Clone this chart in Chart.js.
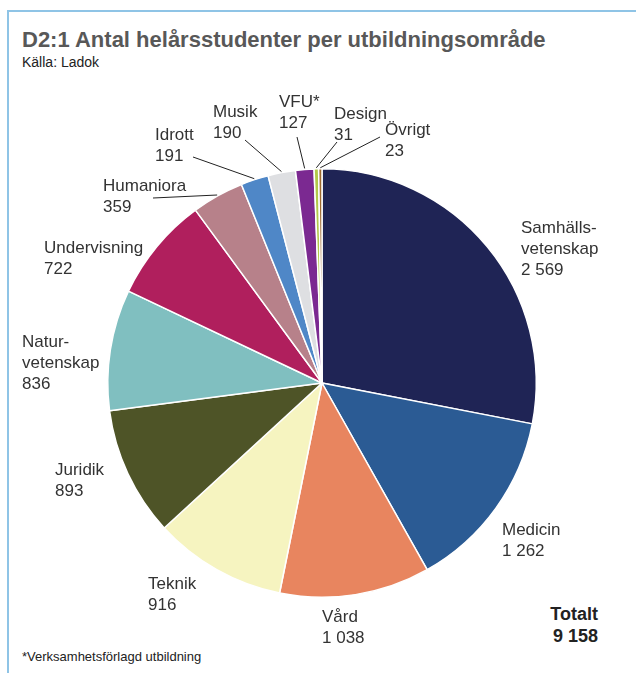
<!DOCTYPE html>
<html>
<head>
<meta charset="utf-8">
<script src="https://cdn.jsdelivr.net/npm/chart.js@4"></script>
<style>
    html, body { margin: 0; padding: 0; background: #fff; }
    #wrap { position: relative; width: 636px; height: 673px; overflow: hidden; }
    #frameTop { position: absolute; left: 7px; top: 10px; right: 0; height: 2px; background: #8fc4e6; }
    #frameLeft { position: absolute; left: 7px; top: 10px; bottom: 0; width: 2px; background: #8fc4e6; }
    .txt { position: absolute; font-family: "Liberation Sans", Arial, sans-serif; white-space: nowrap; }
    #title { left: 22px; top: 27px; font-size: 22px; font-weight: bold; color: #585858; }
    #source { left: 22px; top: 54px; font-size: 14px; color: #222; }
    #note { left: 22px; top: 649px; font-size: 13px; color: #222; }
    #total { right: 38px; top: 603px; font-size: 18px; font-weight: bold; color: #222; text-align: right; line-height: 22px; }
    canvas { position: absolute; left: 0; top: 0; }
</style>
</head>
<body>
<div id="wrap">
    <div id="frameTop"></div>
    <div id="frameLeft"></div>
    <div class="txt" id="title">D2:1 Antal helårsstudenter per utbildningsområde</div>
    <div class="txt" id="source">Källa: Ladok</div>
    <div class="txt" id="note">*Verksamhetsförlagd utbildning</div>
    <div class="txt" id="total">Totalt<br>9 158</div>
    <canvas id="pieChart" width="636" height="673"></canvas>
</div>
<script>
// data, clockwise from 12 o'clock
const categories = ['Samhälls-\nvetenskap', 'Medicin', 'Vård', 'Teknik', 'Juridik', 'Natur-\nvetenskap',
    'Undervisning', 'Humaniora', 'Idrott', 'Musik', 'VFU*', 'Design', 'Övrigt'];
const students = [2569, 1262, 1038, 916, 893, 836, 722, 359, 191, 190, 127, 31, 23];
const colors = ['#1f2455', '#2b5b94', '#e8855f', '#f6f4c0', '#4e5427', '#80bfc0',
    '#b01f5d', '#b7818a', '#4f87c7', '#dedfe2', '#7b2991', '#b3c84a', '#9e6a2e'];

// where each label sits (left x, first baseline y), and leader line start if any
const labelPos = [
    { x: 521, y: 233 }, { x: 502, y: 535 }, { x: 322, y: 622 }, { x: 148, y: 589 },
    { x: 55, y: 475 }, { x: 22, y: 347 }, { x: 44, y: 253 },
    { x: 103, y: 191, lead: [153, 198] }, { x: 155, y: 140, lead: [193, 157] },
    { x: 213, y: 117, lead: [245, 140] }, { x: 279, y: 107, lead: [297, 137] },
    { x: 334, y: 119, lead: [337, 142] }, { x: 385, y: 135, lead: [380, 137] }
];

function fmt(v) {
    return v >= 1000 ? String(v).replace(/(\d)(\d{3})$/, '$1 $2') : String(v);
}

const pieLabels = {
    id: 'pieLabels',
    afterDatasetsDraw(chart) {
        const ctx = chart.ctx;
        const meta = chart.getDatasetMeta(0);
        ctx.save();
        ctx.font = '17px "Liberation Sans", Arial, sans-serif';
        ctx.fillStyle = '#333';
        ctx.textBaseline = 'alphabetic';
        ctx.strokeStyle = '#222';
        ctx.lineWidth = 1;
        meta.data.forEach((arc, i) => {
            const p = labelPos[i];
            const lines = categories[i].split('\n').concat(fmt(students[i]));
            lines.forEach((t, k) => ctx.fillText(t, p.x, p.y + k * 21));
            if (p.lead) {
                const { x, y, startAngle, endAngle, outerRadius } = arc.getProps(['x', 'y', 'startAngle', 'endAngle', 'outerRadius'], true);
                const a = (startAngle + endAngle) / 2;
                ctx.beginPath();
                ctx.moveTo(p.lead[0], p.lead[1]);
                ctx.lineTo(x + Math.cos(a) * (outerRadius + 1), y + Math.sin(a) * (outerRadius + 1));
                ctx.stroke();
            }
        });
        ctx.restore();
    }
};

new Chart(document.getElementById('pieChart'), {
    type: 'pie',
    data: {
        labels: categories,
        datasets: [{
            data: students,
            backgroundColor: colors,
            borderColor: '#fff',
            borderWidth: 1.5
        }]
    },
    options: {
        responsive: false,
        animation: false,
        layout: { padding: { left: 107, right: 99, top: 168, bottom: 75 } },
        plugins: { legend: { display: false }, tooltip: { enabled: false } }
    },
    plugins: [pieLabels]
});
</script>
</body>
</html>
